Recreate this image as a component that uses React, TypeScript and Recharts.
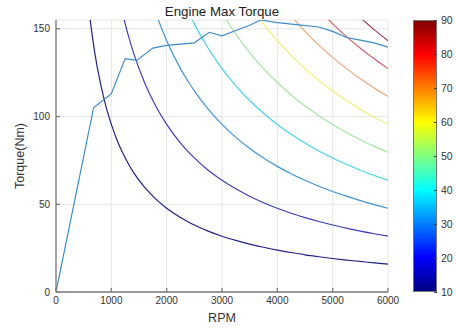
import { LineChart, Line, XAxis, YAxis, CartesianGrid } from 'recharts';

// rpm grid shared by the iso-power contours
const rpmGrid = [600, 700, 800, 900, 1000, 1100, 1200, 1300, 1400, 1600, 1800, 2000, 2250, 2400, 2500, 2750, 3000, 3250, 3500, 3750, 4000, 4250, 4500, 4750, 5000, 5250, 5500, 5750, 6000];

const _ = null;
// torque (Nm) of each contour level, read along rpmGrid
const level10 = [159.2, 136.4, 119.4, 106.1, 95.5, 86.8, 79.6, 73.5, 68.2, 59.7, 53.1, 47.7, 42.4, 39.8, 38.2, 34.7, 31.8, 29.4, 27.3, 25.5, 23.9, 22.5, 21.2, 20.1, 19.1, 18.2, 17.4, 16.6, 15.9];
const level20 = [_, _, _, _, _, _, 159.2, 146.9, 136.4, 119.4, 106.1, 95.5, 84.9, 79.6, 76.4, 69.4, 63.7, 58.8, 54.6, 50.9, 47.7, 44.9, 42.4, 40.2, 38.2, 36.4, 34.7, 33.2, 31.8];
const level30 = [_, _, _, _, _, _, _, _, _, _, 159.2, 143.2, 127.3, 119.4, 114.6, 104.2, 95.5, 88.1, 81.8, 76.4, 71.6, 67.4, 63.7, 60.3, 57.3, 54.6, 52.1, 49.8, 47.7];
const level40 = [_, _, _, _, _, _, _, _, _, _, _, _, _, 159.2, 152.8, 138.9, 127.3, 117.5, 109.1, 101.9, 95.5, 89.9, 84.9, 80.4, 76.4, 72.8, 69.4, 66.4, 63.7];
const level50 = [_, _, _, _, _, _, _, _, _, _, _, _, _, _, _, _, 159.2, 146.9, 136.4, 127.3, 119.4, 112.3, 106.1, 100.5, 95.5, 90.9, 86.8, 83.0, 79.6];
const level60 = [_, _, _, _, _, _, _, _, _, _, _, _, _, _, _, _, _, _, 163.7, 152.8, 143.2, 134.8, 127.3, 120.6, 114.6, 109.1, 104.2, 99.6, 95.5];
const level70 = [_, _, _, _, _, _, _, _, _, _, _, _, _, _, _, _, _, _, _, _, _, 157.3, 148.5, 140.7, 133.7, 127.3, 121.5, 116.3, 111.4];
const level80 = [_, _, _, _, _, _, _, _, _, _, _, _, _, _, _, _, _, _, _, _, _, _, _, 160.8, 152.8, 145.5, 138.9, 132.9, 127.3];
const level90 = [_, _, _, _, _, _, _, _, _, _, _, _, _, _, _, _, _, _, _, _, _, _, _, _, _, _, 156.3, 149.5, 143.2];

const levels = [10, 20, 30, 40, 50, 60, 70, 80, 90];
const levelTorques = [level10, level20, level30, level40, level50, level60, level70, level80, level90];
const levelColors = ['#222288', '#3e3ebc', '#3f94da', '#45d4e8', '#a8e4a6', '#eef070', '#eca880', '#d4626e', '#a23c5c'];

// engine max torque curve
const maxRpm = [0, 680, 1000, 1250, 1460, 1750, 2000, 2500, 2770, 3000, 3250, 3500, 3700, 4000, 4300, 4750, 5000, 5250, 5500, 5750, 6000];
const maxTorque = [0, 105, 113, 133, 132, 139, 140.5, 142, 148, 146, 149, 152, 155, 153.5, 152.5, 151, 148.5, 145, 143.5, 142, 139.5];

const xTicks = [0, 1000, 2000, 3000, 4000, 5000, 6000];
const yTicks = [0, 50, 100, 150];
const colorbarTicks = [10, 20, 30, 40, 50, 60, 70, 80, 90];

const font = '"Liberation Sans", Arial, Helvetica, sans-serif';
const axisColor = '#7a7a7a';
const tickStyle = { fontSize: 10, fill: '#333', fontFamily: font };

const contourData = levelTorques.map((vals) =>
  rpmGrid
    .map((rpm, i) => ({ rpm, torque: vals[i] }))
    .filter((d) => d.torque !== null)
);
const maxData = maxRpm.map((rpm, i) => ({ rpm, torque: maxTorque[i] }));

export default function App() {
  const barTop = 20;
  const barH = 272;
  return (
    <div style={{ position: 'absolute', left: 0, top: 0, width: 456, height: 329, background: '#fff', fontFamily: font }}>
      <LineChart width={456} height={329} margin={{ top: 20, right: 68, bottom: 7, left: 16 }}>
        <CartesianGrid stroke="#e6e6e6" strokeWidth={1} />
        <XAxis
          type="number"
          dataKey="rpm"
          domain={[0, 6000]}
          ticks={xTicks}
          height={30}
          stroke={axisColor}
          strokeWidth={1.3}
          tickSize={-4}
          tickMargin={9}
          tick={tickStyle}
          allowDataOverflow
        />
        <XAxis
          xAxisId="top"
          orientation="top"
          type="number"
          domain={[0, 6000]}
          ticks={xTicks}
          height={0}
          stroke={axisColor}
          strokeWidth={1.3}
          tickSize={-4}
          tick={false}
        />
        <YAxis
          type="number"
          domain={[0, 155]}
          ticks={yTicks}
          width={40}
          stroke={axisColor}
          strokeWidth={1.3}
          tickSize={-4}
          tickMargin={10}
          tick={tickStyle}
          allowDataOverflow
        />
        <YAxis
          yAxisId="right"
          orientation="right"
          type="number"
          domain={[0, 155]}
          ticks={yTicks}
          width={0}
          stroke={axisColor}
          strokeWidth={1.3}
          tickSize={-4}
          tick={false}
        />
        {contourData.map((d, i) => (
          <Line
            key={levels[i]}
            data={d}
            dataKey="torque"
            type="monotone"
            stroke={levelColors[i]}
            strokeWidth={1.2}
            dot={false}
            isAnimationActive={false}
          />
        ))}
        <Line
          data={maxData}
          dataKey="torque"
          type="linear"
          stroke="#3f8ccc"
          strokeWidth={1.2}
          dot={false}
          isAnimationActive={false}
        />
        <text x={222} y={15.5} textAnchor="middle" fontSize={13.3} fill="#222" fontFamily={font}>
          Engine Max Torque
        </text>
        <text x={222} y={322} textAnchor="middle" fontSize={12.5} fill="#333" fontFamily={font}>
          RPM
        </text>
        <text
          x={20}
          y={156}
          textAnchor="middle"
          dominantBaseline="central"
          fontSize={12.5}
          fill="#333"
          fontFamily={font}
          transform="rotate(-90 20 156)"
        >
          Torque(Nm)
        </text>
      </LineChart>
      <div
        style={{
          position: 'absolute',
          left: 413,
          top: barTop,
          width: 24,
          height: barH,
          boxSizing: 'border-box',
          border: '1px solid #777',
          background:
            'linear-gradient(to top, #000080 0%, #0000ff 12.5%, #00ffff 37.5%, #ffff00 62.5%, #ff0000 87.5%, #800000 100%)',
        }}
      />
      {colorbarTicks.map((t) => {
        const y = barTop + barH - ((t - 10) / 80) * barH;
        return (
          <div key={t}>
            <div style={{ position: 'absolute', left: 434, top: y - 0.5, width: 3, height: 1, background: '#444' }} />
            <div
              style={{
                position: 'absolute',
                left: 441,
                top: y - 6,
                fontSize: 10.5,
                lineHeight: '12px',
                color: '#333',
              }}
            >
              {t}
            </div>
          </div>
        );
      })}
    </div>
  );
}
